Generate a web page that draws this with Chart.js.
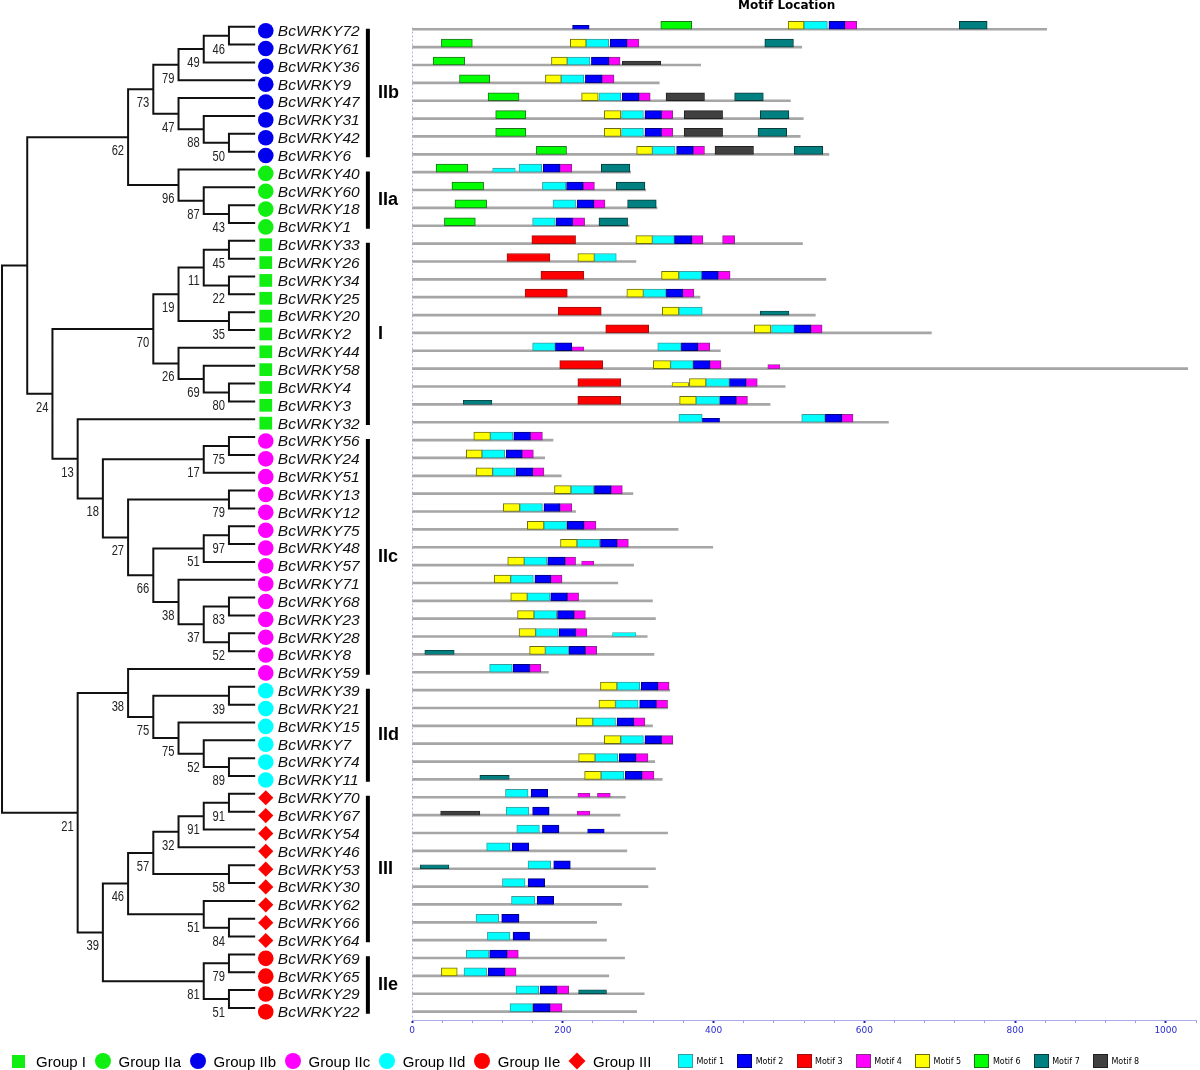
<!DOCTYPE html>
<html lang="en">
<head>
<meta charset="utf-8">
<title>BcWRKY phylogeny and motif location</title>
<script src="https://cdn.jsdelivr.net/npm/chart.js@4.4.1/dist/chart.umd.min.js"></script>
<style>
  body { margin: 0; background: #fff; }
  #page { position: relative; width: 1200px; height: 1070px; overflow: hidden; font-family: "Liberation Sans", Arial, sans-serif; }
  #treeChart { position: absolute; left: 0; top: 0; }
  #motifChart { position: absolute; left: 400px; top: 0; }
  #title { position: absolute; left: 738px; top: -1px; font: bold 12px/12px "DejaVu Sans", Verdana, sans-serif; white-space: nowrap; }
  .legend { position: absolute; top: 1052px; height: 18px; display: flex; align-items: center; white-space: nowrap; }
  .gItem { display: flex; align-items: center; margin-right: 8.5px; font-size: 15px; color: #000; }
  .gMark { display: inline-block; width: 16.6px; height: 16.6px; margin-right: 7.4px; border-radius: 50%; }
  .gMark.square { width: 13px; height: 13px; border-radius: 0; margin-right: 11px; }
  .gMark.diamond { width: 12px; height: 12px; border-radius: 0; transform: rotate(45deg); margin: 0 9.8px 0 2.4px; }
  .mItem { display: flex; align-items: center; width: 59.3px; font: 8px "DejaVu Sans", Verdana, sans-serif; color: #000; }
  .mBox { display: inline-block; width: 13px; height: 12px; border: 1px solid; margin-right: 3.4px; }
</style>
</head>
<body>
<div id="page">
  <canvas id="treeChart" width="410" height="1070"></canvas>
  <canvas id="motifChart" width="800" height="1070"></canvas>
  <div id="title">Motif Location</div>
  <div id="groupLegend" class="legend" style="left:12px"></div>
  <div id="motifLegend" class="legend" style="left:678px"></div>
</div>
<script>
'use strict';

// ---- data ----
const genes = [
  'BcWRKY72', 'BcWRKY61', 'BcWRKY36', 'BcWRKY9', 'BcWRKY47', 'BcWRKY31', 'BcWRKY42', 'BcWRKY6',
  'BcWRKY40', 'BcWRKY60', 'BcWRKY18', 'BcWRKY1',
  'BcWRKY33', 'BcWRKY26', 'BcWRKY34', 'BcWRKY25', 'BcWRKY20', 'BcWRKY2', 'BcWRKY44', 'BcWRKY58',
  'BcWRKY4', 'BcWRKY3', 'BcWRKY32',
  'BcWRKY56', 'BcWRKY24', 'BcWRKY51', 'BcWRKY13', 'BcWRKY12', 'BcWRKY75', 'BcWRKY48', 'BcWRKY57',
  'BcWRKY71', 'BcWRKY68', 'BcWRKY23', 'BcWRKY28', 'BcWRKY8', 'BcWRKY59',
  'BcWRKY39', 'BcWRKY21', 'BcWRKY15', 'BcWRKY7', 'BcWRKY74', 'BcWRKY11',
  'BcWRKY70', 'BcWRKY67', 'BcWRKY54', 'BcWRKY46', 'BcWRKY53', 'BcWRKY30', 'BcWRKY62', 'BcWRKY66', 'BcWRKY64',
  'BcWRKY69', 'BcWRKY65', 'BcWRKY29', 'BcWRKY22'
];

const geneGroup = [
  'IIb', 'IIb', 'IIb', 'IIb', 'IIb', 'IIb', 'IIb', 'IIb',
  'IIa', 'IIa', 'IIa', 'IIa',
  'I', 'I', 'I', 'I', 'I', 'I', 'I', 'I', 'I', 'I', 'I',
  'IIc', 'IIc', 'IIc', 'IIc', 'IIc', 'IIc', 'IIc', 'IIc', 'IIc', 'IIc', 'IIc', 'IIc', 'IIc', 'IIc',
  'IId', 'IId', 'IId', 'IId', 'IId', 'IId',
  'III', 'III', 'III', 'III', 'III', 'III', 'III', 'III', 'III',
  'IIe', 'IIe', 'IIe', 'IIe'
];

// protein length (aa) of each gene, same order as genes
const proteinLength = [
  842, 517, 383, 328, 502, 519, 515, 553,
  290, 310, 325, 288,
  518, 297, 549, 382, 535, 689, 409, 1029, 495, 475, 632,
  187, 176, 198, 293, 217, 353, 399, 294, 273, 319, 323, 312, 321, 181,
  342, 339, 319, 346, 322, 332,
  283, 276, 339, 285, 323, 313, 278, 245, 258,
  282, 261, 308, 298
];

// motif hits per gene: [motif, start, end, partial]
const motifSites = [
  [[2, 213, 235, 1], [6, 330, 371], [5, 499, 520], [1, 520, 551], [2, 553, 574], [4, 574, 590], [7, 726, 763]],
  [[6, 39, 80], [5, 210, 231], [1, 231, 261], [2, 263, 285], [4, 285, 301], [7, 468, 506]],
  [[6, 28, 70], [5, 185, 206], [1, 206, 236], [2, 238, 261], [4, 261, 276], [8, 279, 330, 1]],
  [[6, 63, 103], [5, 177, 198], [1, 198, 228], [2, 230, 252], [4, 252, 268]],
  [[6, 101, 142], [5, 225, 247], [1, 248, 277], [2, 279, 301], [4, 301, 316], [8, 337, 388], [7, 428, 466]],
  [[6, 111, 151], [5, 255, 277], [1, 278, 307], [2, 309, 331], [4, 331, 346], [8, 361, 412], [7, 462, 500]],
  [[6, 111, 151], [5, 255, 277], [1, 278, 307], [2, 309, 331], [4, 331, 346], [8, 361, 412], [7, 459, 497]],
  [[6, 165, 205], [5, 298, 319], [1, 319, 349], [2, 351, 373], [4, 373, 388], [8, 402, 453], [7, 507, 545]],
  [[6, 32, 74], [1, 107, 137, 1], [1, 142, 172], [2, 174, 196], [4, 196, 212], [7, 251, 289]],
  [[6, 53, 95], [1, 173, 204], [2, 205, 227], [4, 227, 242], [7, 271, 309]],
  [[6, 57, 99], [1, 187, 217], [2, 219, 241], [4, 241, 256], [7, 286, 324]],
  [[6, 43, 84], [1, 160, 190], [2, 191, 213], [4, 213, 229], [7, 248, 286]],
  [[3, 159, 217], [5, 297, 319], [1, 319, 348], [2, 348, 371], [4, 371, 386], [4, 412, 428]],
  [[3, 126, 183], [5, 220, 242], [1, 242, 271]],
  [[3, 171, 228], [5, 331, 354], [1, 354, 384], [2, 384, 406], [4, 406, 422]],
  [[3, 150, 206], [5, 285, 307], [1, 307, 337], [2, 337, 359], [4, 359, 374]],
  [[3, 194, 251], [5, 332, 354], [1, 354, 385], [7, 462, 500, 1]],
  [[3, 257, 314], [5, 454, 476], [1, 477, 507], [2, 507, 529], [4, 529, 544]],
  [[1, 160, 190], [2, 190, 212], [4, 212, 228, 1], [1, 326, 357], [2, 357, 379], [4, 379, 395]],
  [[3, 196, 253], [5, 320, 343], [1, 343, 373], [2, 373, 395], [4, 395, 410], [4, 472, 488, 1]],
  [[3, 220, 277], [5, 345, 367, 1], [5, 368, 390], [1, 390, 421], [2, 421, 443], [4, 443, 458]],
  [[7, 68, 106, 1], [3, 220, 277], [5, 355, 377], [1, 377, 408], [2, 408, 430], [4, 430, 445]],
  [[1, 354, 385], [2, 385, 408, 1], [1, 517, 548], [2, 548, 570], [4, 570, 585]],
  [[5, 82, 104], [1, 104, 134], [2, 135, 157], [4, 157, 173]],
  [[5, 72, 93], [1, 93, 123], [2, 125, 146], [4, 146, 161]],
  [[5, 85, 107], [1, 107, 137], [2, 138, 160], [4, 160, 175]],
  [[5, 189, 211], [1, 211, 241], [2, 242, 264], [4, 264, 279]],
  [[5, 121, 143], [1, 143, 173], [2, 175, 196], [4, 196, 212]],
  [[5, 153, 175], [1, 175, 205], [2, 206, 228], [4, 228, 244]],
  [[5, 197, 219], [1, 219, 249], [2, 250, 272], [4, 272, 287]],
  [[5, 127, 149], [1, 149, 179], [2, 180, 203], [4, 203, 217], [4, 225, 241, 1]],
  [[5, 109, 131], [1, 131, 161], [2, 163, 184], [4, 184, 199]],
  [[5, 131, 153], [1, 153, 183], [2, 184, 206], [4, 206, 221]],
  [[5, 140, 162], [1, 162, 192], [2, 193, 215], [4, 215, 230]],
  [[5, 142, 164], [1, 164, 194], [2, 195, 217], [4, 217, 232], [1, 266, 297, 1]],
  [[7, 17, 56, 1], [5, 156, 177], [1, 177, 208], [2, 208, 230], [4, 230, 245]],
  [[1, 103, 133], [2, 134, 156], [4, 156, 171]],
  [[5, 250, 272], [1, 272, 302], [2, 304, 326], [4, 326, 341]],
  [[5, 248, 270], [1, 270, 300], [2, 302, 324], [4, 324, 339]],
  [[5, 218, 240], [1, 240, 270], [2, 272, 294], [4, 294, 309]],
  [[5, 255, 277], [1, 277, 307], [2, 309, 331], [4, 331, 346]],
  [[5, 221, 243], [1, 243, 273], [2, 275, 297], [4, 297, 313]],
  [[7, 90, 129, 1], [5, 229, 251], [1, 251, 281], [2, 283, 305], [4, 305, 321]],
  [[1, 124, 154], [2, 158, 180], [4, 220, 236, 1], [4, 246, 263, 1]],
  [[8, 38, 90, 1], [1, 125, 155], [2, 160, 182], [4, 219, 236, 1]],
  [[1, 139, 169], [2, 173, 195], [2, 233, 255, 1]],
  [[1, 99, 130], [2, 133, 155]],
  [[7, 11, 49, 1], [1, 154, 184], [2, 188, 210]],
  [[1, 120, 150], [2, 154, 176]],
  [[1, 132, 163], [2, 166, 188]],
  [[1, 85, 115], [2, 119, 142]],
  [[1, 100, 130], [2, 134, 156]],
  [[1, 72, 102], [2, 103, 126], [4, 126, 141]],
  [[5, 39, 60], [1, 69, 99], [2, 101, 123], [4, 123, 138]],
  [[1, 138, 168], [2, 170, 192], [4, 192, 208], [7, 221, 258, 1]],
  [[1, 130, 160], [2, 161, 183], [4, 183, 199]]
];

// tree topology: [bootstrap, left, right]
const tree = [null,
  [null,
    [62,
      [73,
        [79, [49, [46, 'BcWRKY72', 'BcWRKY61'], 'BcWRKY36'], 'BcWRKY9'],
        [47, 'BcWRKY47', [88, 'BcWRKY31', [50, 'BcWRKY42', 'BcWRKY6']]]],
      [96, 'BcWRKY40', [87, 'BcWRKY60', [43, 'BcWRKY18', 'BcWRKY1']]]],
    [24,
      [70,
        [19, [11, [45, 'BcWRKY33', 'BcWRKY26'], [22, 'BcWRKY34', 'BcWRKY25']], [35, 'BcWRKY20', 'BcWRKY2']],
        [26, 'BcWRKY44', [69, 'BcWRKY58', [80, 'BcWRKY4', 'BcWRKY3']]]],
      [13, 'BcWRKY32',
        [18,
          [17, [75, 'BcWRKY56', 'BcWRKY24'], 'BcWRKY51'],
          [27, [79, 'BcWRKY13', 'BcWRKY12'],
            [66, [51, [97, 'BcWRKY75', 'BcWRKY48'], 'BcWRKY57'],
              [38, 'BcWRKY71', [37, [83, 'BcWRKY68', 'BcWRKY23'], [52, 'BcWRKY28', 'BcWRKY8']]]]]]]]],
  [21,
    [38, 'BcWRKY59',
      [75, [39, 'BcWRKY39', 'BcWRKY21'], [75, 'BcWRKY15', [52, 'BcWRKY7', [89, 'BcWRKY74', 'BcWRKY11']]]]],
    [39,
      [46,
        [57, [32, [91, [91, 'BcWRKY70', 'BcWRKY67'], 'BcWRKY54'], 'BcWRKY46'], [58, 'BcWRKY53', 'BcWRKY30']],
        [51, 'BcWRKY62', [84, 'BcWRKY66', 'BcWRKY64']]],
      [81, [79, 'BcWRKY69', 'BcWRKY65'], [51, 'BcWRKY29', 'BcWRKY22']]]]
];

const groups = ['I', 'IIa', 'IIb', 'IIc', 'IId', 'IIe', 'III'];
const motifNames = ['Motif 1', 'Motif 2', 'Motif 3', 'Motif 4', 'Motif 5', 'Motif 6', 'Motif 7', 'Motif 8'];

// ---- styles ----
const groupStyle = {
  I:   { color: '#11ee11', point: 'rect',    radius: 9,   css: 'square' },
  IIa: { color: '#11ee11', point: 'circle',  radius: 7.8, css: '' },
  IIb: { color: '#0000ee', point: 'circle',  radius: 7.8, css: '' },
  IIc: { color: '#ff00ff', point: 'circle',  radius: 7.8, css: '' },
  IId: { color: '#00ffff', point: 'circle',  radius: 7.8, css: '' },
  IIe: { color: '#ff0000', point: 'circle',  radius: 7.8, css: '' },
  III: { color: '#ff0000', point: 'rectRot', radius: 7.6, css: 'diamond' }
};
const motifFill = ['#00ffff', '#0000ff', '#ff0000', '#ff00ff', '#ffff00', '#00ff00', '#008080', '#404040'];
const motifEdge = ['#3c9c9c', '#00007a', '#a01010', '#8a2a8a', '#6b6b10', '#207020', '#0a3a3a', '#202020'];

// tree canvas mapping (levels, rows)
const TREE_X_MIN = -6.18, TREE_X_MAX = 10.08;
const TREE_Y_MIN = -1.5, TREE_Y_MAX = 58.48;
const MARKER_X = -0.46, LABEL_X = -0.94, BAR_X = -4.51, GROUP_LABEL_X = -4.91;

// motif canvas mapping
const MOTIF_Y_MIN = -1.08, MOTIF_Y_MAX = 55.47;
const ROW_PX = 17.86, BOX_H = 8, THIN_H = 4;

// ---- tree layout ----
function layoutTree(node) {
  if (typeof node === 'string') return { h: 0, y: genes.indexOf(node) };
  const kids = [layoutTree(node[1]), layoutTree(node[2])];
  return { bs: node[0], kids, h: Math.max(kids[0].h, kids[1].h) + 1, y: (kids[0].y + kids[1].y) / 2 };
}
const treeRoot = layoutTree(tree);
const branchPts = [];
const bootstrapNodes = [];
(function walk(n) {
  if (!n.kids) return;
  const [a, b] = n.kids;
  branchPts.push({ x: a.h, y: a.y }, { x: n.h, y: a.y }, { x: n.h, y: b.y }, { x: b.h, y: b.y }, { x: null, y: null });
  if (n.bs != null) bootstrapNodes.push(n);
  walk(a);
  walk(b);
})(treeRoot);

// vertical bars beside each group
const groupSpans = [];
geneGroup.forEach((g, i) => {
  const last = groupSpans[groupSpans.length - 1];
  if (last && last.g === g) last.end = i; else groupSpans.push({ g, start: i, end: i });
});
const groupBarPts = [];
groupSpans.forEach(s => groupBarPts.push({ x: BAR_X, y: s.start + 0.11 }, { x: BAR_X, y: s.end + 0.32 }, { x: null, y: null }));

const markerSets = groups.map(g => ({
  data: genes.map((name, i) => ({ x: MARKER_X, y: i + 0.22 })).filter((p, i) => geneGroup[i] === g),
  pointStyle: groupStyle[g].point,
  pointRadius: groupStyle[g].radius,
  backgroundColor: groupStyle[g].color,
  borderWidth: 0,
  showLine: false
}));

// the bootstrap numbers use a narrow face; squeeze the regular one if it is missing
function narrowScale(ctx) {
  ctx.font = '14px "Liberation Sans Narrow", monospace';
  const a = ctx.measureText('0123456789').width;
  ctx.font = '14px monospace';
  const b = ctx.measureText('0123456789').width;
  return a !== b ? 1 : 0.8;
}

const treeText = {
  id: 'treeText',
  afterDatasetsDraw(chart) {
    const { ctx, scales: { x, y } } = chart;
    ctx.save();
    ctx.textBaseline = 'middle';
    ctx.fillStyle = '#111';
    ctx.font = 'italic 15.5px "Liberation Sans", Arial, sans-serif';
    ctx.textAlign = 'left';
    genes.forEach((name, i) => ctx.fillText(name, x.getPixelForValue(LABEL_X), y.getPixelForValue(i + 0.28)));

    const sx = narrowScale(ctx);
    ctx.font = '14px "Liberation Sans Narrow", "Liberation Sans", Arial, sans-serif';
    ctx.textAlign = 'right';
    ctx.fillStyle = '#222';
    bootstrapNodes.forEach(n => {
      ctx.save();
      ctx.translate(x.getPixelForValue(n.h) - 4, y.getPixelForValue(n.y) + 14);
      ctx.scale(sx, 1);
      ctx.fillText(String(n.bs), 0, 0);
      ctx.restore();
    });

    ctx.font = 'bold 18px "Liberation Sans", Arial, sans-serif';
    ctx.textAlign = 'left';
    ctx.fillStyle = '#000';
    groupSpans.forEach(s => ctx.fillText(s.g, x.getPixelForValue(GROUP_LABEL_X), y.getPixelForValue((s.start + s.end) / 2 + 0.22)));
    ctx.restore();
  }
};

new Chart(document.getElementById('treeChart'), {
  type: 'scatter',
  data: {
    datasets: [
      ...markerSets,
      { data: branchPts, showLine: true, spanGaps: false, borderColor: '#111', borderWidth: 2, pointRadius: 0, borderJoinStyle: 'miter', borderCapStyle: 'square' },
      { data: groupBarPts, showLine: true, spanGaps: false, borderColor: '#000', borderWidth: 4, pointRadius: 0 }
    ]
  },
  options: {
    responsive: false,
    animation: false,
    events: [],
    layout: { padding: 0, autoPadding: false },
    plugins: { legend: { display: false }, tooltip: { enabled: false } },
    scales: {
      x: { type: 'linear', display: false, reverse: true, offset: false, min: TREE_X_MIN, max: TREE_X_MAX },
      y: { type: 'linear', display: false, reverse: true, offset: false, min: TREE_Y_MIN, max: TREE_Y_MAX }
    }
  },
  plugins: [treeText]
});

// ---- motif chart ----
const motifDatasets = [];
motifNames.forEach((label, k) => {
  [0, 1].forEach(partial => {
    const h = partial ? THIN_H : BOX_H;
    const pts = [];
    motifSites.forEach((sites, row) => sites.forEach(s => {
      if (s[0] === k + 1 && (s[3] ? 1 : 0) === partial) pts.push({ y: row - h / 2 / ROW_PX, x: [s[1], s[2]] });
    }));
    if (!pts.length) return;
    motifDatasets.push({
      label, data: pts, stack: 'gene',
      backgroundColor: motifFill[k], borderColor: motifEdge[k],
      borderWidth: partial ? 0.8 : 1, borderSkipped: false, barThickness: h
    });
  });
});
motifDatasets.push({
  label: 'protein', stack: 'gene', order: 1,
  data: proteinLength.map((len, row) => ({ y: row, x: [0, len] })),
  backgroundColor: '#a6a6a6', borderWidth: 0, barThickness: 2
});

const motifAxisLine = {
  id: 'motifAxisLine',
  beforeDatasetsDraw(chart) {
    const { ctx, scales: { x, y }, chartArea } = chart;
    const px = Math.round(x.getPixelForValue(0)) + 0.5;
    ctx.save();
    ctx.strokeStyle = '#aab2ee';
    ctx.lineWidth = 1;
    ctx.setLineDash([2, 2]);
    ctx.beginPath();
    ctx.moveTo(px, y.getPixelForValue(-0.1));
    ctx.lineTo(px, chartArea.bottom);
    ctx.stroke();
    ctx.restore();
  }
};

new Chart(document.getElementById('motifChart'), {
  type: 'bar',
  data: { datasets: motifDatasets },
  options: {
    indexAxis: 'y',
    responsive: false,
    animation: false,
    events: [],
    layout: { padding: { left: 12, right: 4, top: 10, bottom: 10 }, autoPadding: false },
    plugins: { legend: { display: false }, tooltip: { enabled: false } },
    scales: {
      x: {
        type: 'linear', min: 0, max: 1040, stacked: false, offset: false,
        afterFit: scale => { scale.height = 40; },
        border: { color: '#a9adec', width: 1 },
        grid: {
          drawOnChartArea: false, tickLength: 3, offset: false,
          tickColor: c => (c.tick && c.tick.value % 200 === 0 ? '#2222bb' : '#9a9ae0'),
          tickWidth: c => (c.tick && c.tick.value % 200 === 0 ? 2 : 1)
        },
        ticks: {
          stepSize: 40, autoSkip: false, maxRotation: 0, padding: 2,
          color: '#2a2ad6', font: { family: '"DejaVu Sans", Verdana, sans-serif', size: 9 },
          callback: v => (v % 200 === 0 ? v : '')
        }
      },
      y: { type: 'linear', display: false, reverse: true, offset: false, grid: { offset: false }, min: MOTIF_Y_MIN, max: MOTIF_Y_MAX }
    }
  },
  plugins: [motifAxisLine]
});

// ---- legends ----
const groupLegend = document.getElementById('groupLegend');
groups.forEach(g => {
  const item = document.createElement('div');
  item.className = 'gItem';
  const mark = document.createElement('span');
  mark.className = 'gMark ' + groupStyle[g].css;
  mark.style.background = groupStyle[g].color;
  const text = document.createElement('span');
  text.textContent = 'Group ' + g;
  item.append(mark, text);
  groupLegend.append(item);
});
const motifLegend = document.getElementById('motifLegend');
motifNames.forEach((name, k) => {
  const item = document.createElement('div');
  item.className = 'mItem';
  const box = document.createElement('span');
  box.className = 'mBox';
  box.style.background = motifFill[k];
  box.style.borderColor = motifEdge[k];
  const text = document.createElement('span');
  text.textContent = name;
  item.append(box, text);
  motifLegend.append(item);
});
</script>
</body>
</html>
